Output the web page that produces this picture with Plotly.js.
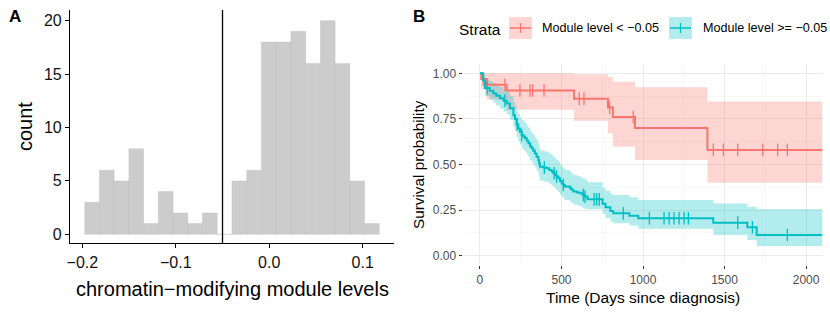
<!DOCTYPE html>
<html><head><meta charset="utf-8">
<script src="https://cdn.plot.ly/plotly-3.0.1.min.js"></script>
<style>html,body{margin:0;padding:0;background:#fff}#chart{width:830px;height:312px}</style>
</head><body><div id="chart"></div>
<script>
// ---------- Panel A: histogram data ----------
const histBinCenters = [-0.1895,-0.1738,-0.1580,-0.1423,-0.1265,-0.1108,-0.0950,-0.0792,-0.0635,-0.0477,
                        -0.0320,-0.0162,-0.0005,0.0153,0.0311,0.0468,0.0626,0.0783,0.0941,0.1098];
const histCounts = [3,6,5,8,1,4,2,1,2,0,5,6,18,18,19,16,20,16,5,1];
const histBinWidth = 0.01576;
const thresholdLevel = -0.05;
const histXTicks = [-0.2,-0.1,0.0,0.1];
const histXTickText = ['\u22120.2','\u22120.1','0.0','0.1'];
const histYTicks = [0,5,10,15,20];

// ---------- Panel B: Kaplan-Meier data ----------
const strataLabels = ['Module level < \u22120.05','Module level >= \u22120.05'];
const endTime = 2100;
const redTime  = [0,    8,     41,     164,   577,   785,   815,   951,   1395];
const redSurv  = [1.0,  0.969, 0.9375, 0.906, 0.860, 0.812, 0.760, 0.700, 0.580];
const redUpper = [1.0,  1.0,   1.0,    1.0,   0.995, 0.980, 0.954, 0.923, 0.845];
const redLower = [1.0,  0.910, 0.857,  0.800, 0.740, 0.671, 0.598, 0.525, 0.400];
const redCensor = [20,153,245,307,323,393,609,638,795,940,1431,1493,1581,1734,1826,1885];

const tealTime = [0,20,31,60,82,100,123,145,164,184,205,215,225,235,245,256,266,276,287,297,307,317,327,337,347,358,363,368,390,409,425,440,450,460,470,481,491,501,511,521,552,562,573,595,613,630,644,660,752,770,800,818,916,971,1431,1640,1697];
const tealSurv = [1.0,0.960,0.920,0.905,0.890,0.877,0.863,0.850,0.835,0.808,0.770,0.750,0.720,0.698,0.680,0.662,0.653,0.644,0.630,0.616,0.600,0.589,0.575,0.561,0.543,0.525,0.505,0.488,0.483,0.479,0.470,0.461,0.452,0.443,0.434,0.424,0.410,0.397,0.388,0.379,0.370,0.361,0.352,0.347,0.342,0.333,0.324,0.309,0.285,0.265,0.245,0.232,0.219,0.205,0.181,0.156,0.113];
const tealUpper = [1.0,0.995,0.968,0.957,0.946,0.935,0.924,0.913,0.900,0.877,0.843,0.825,0.798,0.778,0.761,0.744,0.736,0.727,0.714,0.701,0.686,0.675,0.662,0.648,0.631,0.614,0.594,0.578,0.573,0.569,0.560,0.552,0.543,0.534,0.525,0.515,0.501,0.488,0.479,0.470,0.461,0.452,0.443,0.438,0.433,0.424,0.415,0.403,0.372,0.356,0.340,0.333,0.320,0.305,0.286,0.269,0.254];
const tealLower = [1.0,0.925,0.875,0.857,0.838,0.823,0.806,0.791,0.774,0.745,0.704,0.683,0.651,0.628,0.609,0.590,0.580,0.571,0.556,0.542,0.525,0.514,0.499,0.485,0.467,0.449,0.429,0.412,0.407,0.403,0.394,0.385,0.376,0.367,0.359,0.349,0.336,0.323,0.314,0.306,0.297,0.288,0.280,0.275,0.270,0.262,0.255,0.255,0.230,0.205,0.188,0.178,0.165,0.148,0.113,0.086,0.053];
const tealCensor = [45,153,228,256,395,455,470,511,634,644,700,716,732,879,1039,1129,1160,1190,1221,1252,1278,1581,1671,1885];

const kmXTicks = [0,500,1000,1500,2000];
const kmYTicks = [0,0.25,0.5,0.75,1.0];

// ---------- styling ----------
const FONT = 'Liberation Sans, Arial, Helvetica, sans-serif';
const RED = '#F8766D', TEAL = '#00BFC4';
const RED_FILL = 'rgba(248,118,109,0.3)', TEAL_FILL = 'rgba(0,191,196,0.3)';
const W = 830, H = 312;
const px = v => v / W, py = v => 1 - v / H;

function ext(arr, last) { return arr.concat([last]); }
function stepAt(times, vals, t) {
  let v = vals[0];
  for (let i = 0; i < times.length; i++) { if (times[i] <= t) v = vals[i]; }
  return v;
}

const traces = [];
// histogram bars
traces.push({
  type: 'bar', x: histBinCenters, y: histCounts, width: histBinWidth,
  marker: {color: '#CCCCCC', line: {color: 'rgba(185,185,185,0.7)', width: 0.5}},
  xaxis: 'x', yaxis: 'y', hoverinfo: 'skip'
});

function band(times, lower, upper, fill) {
  const xs = ext(times, endTime);
  traces.push({type: 'scatter', mode: 'lines', x: xs, y: ext(lower, lower[lower.length-1]),
    line: {shape: 'hv', width: 0, color: 'rgba(0,0,0,0)'}, xaxis: 'x2', yaxis: 'y2', hoverinfo: 'skip'});
  traces.push({type: 'scatter', mode: 'lines', x: xs, y: ext(upper, upper[upper.length-1]),
    fill: 'tonexty', fillcolor: fill,
    line: {shape: 'hv', width: 0, color: 'rgba(0,0,0,0)'}, xaxis: 'x2', yaxis: 'y2', hoverinfo: 'skip'});
}
band(redTime, redLower, redUpper, RED_FILL);
band(tealTime, tealLower, tealUpper, TEAL_FILL);

function curve(times, surv, censor, color) {
  traces.push({type: 'scatter', mode: 'lines', x: ext(times, endTime), y: ext(surv, surv[surv.length-1]),
    line: {shape: 'hv', width: 2, color: color}, xaxis: 'x2', yaxis: 'y2', hoverinfo: 'skip'});
  traces.push({type: 'scatter', mode: 'markers', x: censor, y: censor.map(t => stepAt(times, surv, t)),
    marker: {symbol: 'line-ns-open', size: 9, line: {width: 1.3, color: color}, color: color},
    xaxis: 'x2', yaxis: 'y2', hoverinfo: 'skip'});
}
curve(redTime, redSurv, redCensor, RED);
curve(tealTime, tealSurv, tealCensor, TEAL);

const layout = {
  width: W, height: H, margin: {l: 0, r: 0, t: 0, b: 0},
  paper_bgcolor: '#fff', plot_bgcolor: 'rgba(0,0,0,0)', showlegend: false,
  font: {family: FONT, color: '#000'},
  bargap: 0,
  xaxis: {domain: [px(70), px(394)], range: [-0.2132, 0.1335], anchor: 'y',
    tickvals: histXTicks, ticktext: histXTickText, ticks: 'outside', ticklen: 4, tickwidth: 1.1, tickcolor: '#000',
    showline: true, linecolor: '#000', linewidth: 1.1, showgrid: false, zeroline: false,
    tickfont: {size: 16, color: '#111', family: FONT}},
  yaxis: {domain: [py(243.3), py(10)], range: [-0.843, 21.0], anchor: 'x',
    tickvals: histYTicks, ticks: 'outside', ticklen: 4, tickwidth: 1.1, tickcolor: '#000',
    showline: true, linecolor: '#000', linewidth: 1.1, showgrid: false, zeroline: false,
    tickfont: {size: 16, color: '#111', family: FONT}},
  xaxis2: {domain: [px(463), px(822.7)], range: [-104, 2102], anchor: 'y2',
    tickvals: kmXTicks, ticks: 'outside', ticklen: 3.5, tickwidth: 1, tickcolor: '#333',
    showline: false, zeroline: false, showgrid: true, gridcolor: '#EBEBEB', gridwidth: 1,
    minor: {dtick: 250, tick0: 0, showgrid: true, gridcolor: '#F3F3F3', gridwidth: 0.6, ticks: ''},
    tickfont: {size: 12, color: '#4D4D4D', family: FONT}},
  yaxis2: {domain: [py(264.8), py(64.2)], range: [-0.05, 1.05], anchor: 'x2',
    tickvals: kmYTicks, tickformat: '.2f', ticks: 'outside', ticklen: 3.5, tickwidth: 1, tickcolor: '#333',
    showline: false, zeroline: false, showgrid: true, gridcolor: '#EBEBEB', gridwidth: 1,
    minor: {dtick: 0.125, tick0: 0, showgrid: true, gridcolor: '#F3F3F3', gridwidth: 0.6, ticks: ''},
    tickfont: {size: 12, color: '#4D4D4D', family: FONT}},
  shapes: [
    {type: 'line', xref: 'x', yref: 'y domain', x0: thresholdLevel, x1: thresholdLevel, y0: 0, y1: 1,
     line: {color: '#000', width: 1.3}},
    // legend keys
    {type: 'rect', xref: 'paper', yref: 'paper', x0: px(509), x1: px(532), y0: py(39), y1: py(17),
     fillcolor: RED_FILL, line: {width: 0}},
    {type: 'line', xref: 'paper', yref: 'paper', x0: px(510), x1: px(531), y0: py(28), y1: py(28), line: {color: RED, width: 1.5}},
    {type: 'line', xref: 'paper', yref: 'paper', x0: px(520.5), x1: px(520.5), y0: py(23), y1: py(33), line: {color: RED, width: 1.2}},
    {type: 'rect', xref: 'paper', yref: 'paper', x0: px(669), x1: px(692), y0: py(39), y1: py(17),
     fillcolor: TEAL_FILL, line: {width: 0}},
    {type: 'line', xref: 'paper', yref: 'paper', x0: px(670), x1: px(691), y0: py(28), y1: py(28), line: {color: TEAL, width: 1.5}},
    {type: 'line', xref: 'paper', yref: 'paper', x0: px(680.5), x1: px(680.5), y0: py(23), y1: py(33), line: {color: TEAL, width: 1.2}}
  ],
  annotations: [
    {text: '<b>A</b>', xref: 'paper', yref: 'paper', x: px(15), y: py(16), showarrow: false,
     xanchor: 'center', yanchor: 'middle', font: {size: 17, family: FONT, color: '#000'}},
    {text: '<b>B</b>', xref: 'paper', yref: 'paper', x: px(419), y: py(16), showarrow: false,
     xanchor: 'center', yanchor: 'middle', font: {size: 17, family: FONT, color: '#000'}},
    {text: 'count', xref: 'paper', yref: 'paper', x: px(25), y: py(127), showarrow: false, textangle: -90,
     xanchor: 'center', yanchor: 'middle', font: {size: 20, family: FONT, color: '#000'}},
    {text: 'chromatin\u2212modifying module levels', xref: 'paper', yref: 'paper', x: px(232), y: py(289), showarrow: false,
     xanchor: 'center', yanchor: 'middle', font: {size: 20, family: FONT, color: '#000'}},
    {text: 'Survival probability', xref: 'paper', yref: 'paper', x: px(418), y: py(165), showarrow: false, textangle: -90,
     xanchor: 'center', yanchor: 'middle', font: {size: 15.3, family: FONT, color: '#000'}},
    {text: 'Time (Days since diagnosis)', xref: 'paper', yref: 'paper', x: px(643), y: py(297), showarrow: false,
     xanchor: 'center', yanchor: 'middle', font: {size: 15.5, family: FONT, color: '#000'}},
    {text: 'Strata', xref: 'paper', yref: 'paper', x: px(457), y: py(29), showarrow: false,
     xanchor: 'left', yanchor: 'middle', font: {size: 15.5, family: FONT, color: '#000'}},
    {text: strataLabels[0], xref: 'paper', yref: 'paper', x: px(540), y: py(28), showarrow: false,
     xanchor: 'left', yanchor: 'middle', font: {size: 12.6, family: FONT, color: '#000'}},
    {text: strataLabels[1], xref: 'paper', yref: 'paper', x: px(701), y: py(28), showarrow: false,
     xanchor: 'left', yanchor: 'middle', font: {size: 12.6, family: FONT, color: '#000'}}
  ]
};

Plotly.newPlot('chart', traces, layout, {staticPlot: true, displayModeBar: false});
</script>
</body></html>
